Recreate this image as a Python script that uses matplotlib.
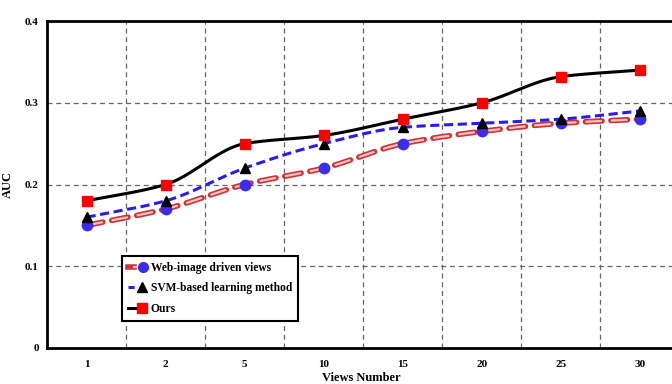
import numpy as np
import matplotlib
matplotlib.use("Agg")
import matplotlib.pyplot as plt
from matplotlib.lines import Line2D
from matplotlib.legend_handler import HandlerTuple

# data
views = ["1", "2", "5", "10", "15", "20", "25", "30"]
web_auc = [0.15, 0.17, 0.20, 0.22, 0.25, 0.265, 0.275, 0.28]
svm_auc = [0.16, 0.18, 0.22, 0.25, 0.27, 0.275, 0.28, 0.29]
ours_auc = [0.18, 0.20, 0.25, 0.26, 0.28, 0.30, 0.332, 0.34]


def smooth(x, y, n=30):
    """Monotone cubic (Fritsch-Carlson) curve through the points, for drawing only"""
    x = np.asarray(x, float)
    y = np.asarray(y, float)
    h = np.diff(x)
    d = np.diff(y) / h
    m = np.zeros_like(y)
    m[0], m[-1] = d[0], d[-1]
    for i in range(1, len(y) - 1):
        if d[i - 1] * d[i] > 0:
            m[i] = 2 / (1 / d[i - 1] + 1 / d[i])
    xs, ys = [], []
    for i in range(len(h)):
        t = np.linspace(0, 1, n, endpoint=False)
        h00 = 2 * t**3 - 3 * t**2 + 1
        h10 = t**3 - 2 * t**2 + t
        h01 = -2 * t**3 + 3 * t**2
        h11 = t**3 - t**2
        xs.append(x[i] + t * h[i])
        ys.append(h00 * y[i] + h10 * h[i] * m[i] + h01 * y[i + 1] + h11 * h[i] * m[i + 1])
    xs.append([x[-1]])
    ys.append([y[-1]])
    return np.concatenate(xs), np.concatenate(ys)


plt.rcParams['font.family'] = ['Liberation Serif', 'DejaVu Serif']
plt.rcParams['font.weight'] = 'bold'

fig = plt.figure(figsize=(6.72, 3.84), dpi=100)
ax = fig.add_axes([0.070, 0.094, 0.935, 0.851])

xi = np.arange(1, len(views) + 1)

# Web-image driven views: red double dashed line, blue circles
sx, sy = smooth(xi, web_auc)
ax.plot(sx, sy, color='#cc3333', lw=4.0, dashes=(3, 1.6), dash_capstyle='round', zorder=2)
ax.plot(sx, sy, color='#f4c4c4', lw=1.6, dashes=(7.5, 4.0), zorder=2)
ax.plot(xi, web_auc, 'o', color='#3c2cf0', ms=7.5, zorder=4)

# SVM-based learning method: blue dashed, black triangles
sx, sy = smooth(xi, svm_auc)
ax.plot(sx, sy, color='#2a1cf0', lw=2.2, dashes=(3, 1.5), zorder=3)
ax.plot(xi, svm_auc, '^', color='black', ms=7.5, zorder=5)

# Ours: black solid, red squares
sx, sy = smooth(xi, ours_auc)
ax.plot(sx, sy, color='black', lw=2.2, zorder=3)
ax.plot(xi, ours_auc, 's', color='#ff0000', ms=7.5, zorder=5)

ax.set_xlim(0.5, 8.45)
ax.set_ylim(0, 0.4)
ax.set_xticks(xi)
ax.set_xticklabels(views)
ax.set_yticks([0, 0.1, 0.2, 0.3, 0.4])
ax.set_yticklabels(['0', '0.1', '0.2', '0.3', '0.4'])
ax.tick_params(axis='x', length=0, labelsize=8, pad=9)
ax.tick_params(axis='y', length=0, labelsize=8, pad=6)

# grid: dashed lines between categories and at y ticks
for xv in np.arange(1.5, 8.5, 1.0):
    ax.axvline(xv, color='#666666', lw=0.9, ls=(0, (4, 3)), zorder=1)
for yv in [0.1, 0.2, 0.3]:
    ax.axhline(yv, color='#666666', lw=0.9, ls=(0, (4, 3)), zorder=1)

for side in ['left', 'bottom', 'top']:
    ax.spines[side].set_linewidth(2.0)
ax.spines['right'].set_visible(False)

ax.set_xlabel('Views Number', fontsize=9, fontweight='bold', labelpad=2)
ax.set_ylabel('AUC', fontsize=9, fontweight='bold')
ax.yaxis.set_label_coords(-0.052, 0.5)

h_web = (Line2D([], [], color='#cc3333', lw=4.0),
         Line2D([], [], color='#f4c4c4', lw=1.6),
         Line2D([], [], marker='o', color='#3c2cf0', ms=7, ls='none'))
h_svm = (Line2D([], [], color='#2a1cf0', lw=2.2, dashes=(2, 1.2)),
         Line2D([], [], marker='^', color='black', ms=7, ls='none'))
h_ours = (Line2D([], [], color='black', lw=2.2),
          Line2D([], [], marker='s', color='#ff0000', ms=7, ls='none'))

leg = ax.legend([h_web, h_svm, h_ours],
                ['Web-image driven views', 'SVM-based learning method', 'Ours'],
                handler_map={tuple: HandlerTuple(ndivide=None, pad=0)},
                loc='lower left', bbox_to_anchor=(0.11, 0.065),
                fontsize=8.3, handlelength=1.6, handletextpad=0.4,
                fancybox=False, framealpha=1, edgecolor='black',
                borderpad=0.5, labelspacing=0.75)
leg.get_frame().set_linewidth(1.5)
for t in leg.get_texts():
    t.set_fontweight('bold')

fig.savefig('out.png', dpi=100)
